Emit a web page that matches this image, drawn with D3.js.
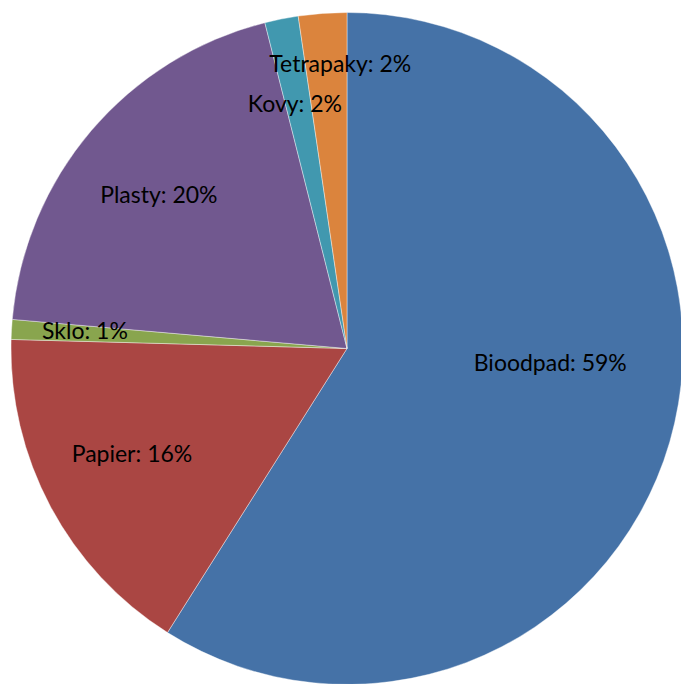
<html>
<head>
<script src="https://d3js.org/d3.v7.min.js"></script>
<style>
  body { margin: 0; background: #fff; }
  text { font-family: Lato, "Open Sans", sans-serif; }
</style>
</head>
<body>
<svg id="pie" width="681" height="684"></svg>
<script>
    // data (share of waste, %)
    const categories = ["Bioodpad", "Papier", "Sklo", "Plasty", "Kovy", "Tetrapaky"];
    const values = [58.97, 16.46, 0.95, 19.69, 1.61, 2.32];
    const labels = ["Bioodpad: 59%", "Papier: 16%", "Sklo: 1%", "Plasty: 20%", "Kovy: 2%", "Tetrapaky: 2%"];
    const colors = ["#4572A7", "#AA4643", "#89A54E", "#71588F", "#4198AF", "#DB843D"];

    let svg = d3.select("svg#pie");
    let cx = 347, cy = 348.5, radius = 336;

    // label centres, relative to the pie centre as a fraction of the radius
    let labelPos = [[0.605, 0.04], [-0.64, 0.31], [-0.78, -0.055], [-0.56, -0.46], [-0.155, -0.73], [-0.02, -0.85]];

    let pie = d3.pie().sort(null).value(d => d);
    let arc = d3.arc().innerRadius(0).outerRadius(radius);

    let g = svg.append("g").attr("transform", "translate(" + cx + "," + cy + ")");

    //draw slices
    g.selectAll("path")
        .data(pie(values))
        .enter()
        .append("path")
        .attr("d", arc)
        .style("fill", (d, i) => colors[i])
        .style("stroke", "rgba(255,255,255,0.5)")
        .style("stroke-width", 0.8);

    //draw labels
    labels.forEach(function(t, i) {
        g.append("text")
            .attr("x", labelPos[i][0] * radius)
            .attr("y", labelPos[i][1] * radius)
            .attr("text-anchor", "middle")
            .attr("dominant-baseline", "central")
            .style("font-size", "23px")
            .style("fill", "#000")
            .text(t);
    });
</script>
</body>
</html>
